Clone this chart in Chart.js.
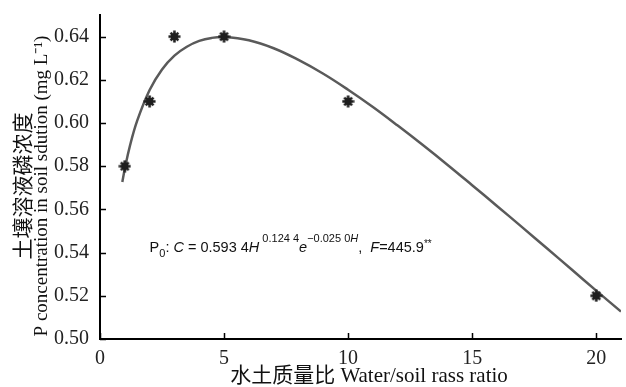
<!DOCTYPE html>
<html>
<head>
<meta charset="utf-8">
<script src="https://cdn.jsdelivr.net/npm/chart.js@4.4.1/dist/chart.umd.min.js"></script>
<style>
  html, body { margin: 0; padding: 0; background: #fff; }
  #wrap { width: 626px; height: 387px; }
</style>
</head>
<body>
<div id="wrap"><canvas id="chart" width="626" height="387"></canvas></div>
<script>
// measured points
const waterRatio = [1, 2, 3, 5, 10, 20];
const pConc = [0.58, 0.61, 0.64, 0.64, 0.61, 0.52];

// fitted curve
const fitX = [0.9, 1, 1.2, 1.5, 2, 2.5, 3, 3.5, 4, 4.5, 5, 6, 7, 8, 9, 10, 11, 12, 13, 14, 15, 16, 17, 18, 19, 20, 21];
const fitY = [0.5727, 0.5788, 0.5891, 0.6011, 0.6153, 0.6248, 0.6312, 0.6353, 0.6380, 0.6394, 0.6398,
  0.6383, 0.6346, 0.6292, 0.6228, 0.6154, 0.6074, 0.5988, 0.5899, 0.5807, 0.5712, 0.5616, 0.5519,
  0.5421, 0.5323, 0.5224, 0.5127];

const xTicks = [0, 5, 10, 15, 20];
const yTicks = [0.50, 0.52, 0.54, 0.56, 0.58, 0.60, 0.62, 0.64];

const xTitle = '水土质量比 Water/soil rass ratio';
const yTitle = ['土壤溶液磷浓度', 'P concentration in soil sdution (mg L⁻¹)'];

const serif = "'Liberation Serif', 'Noto Sans CJK SC', serif";
const sans = "'Liberation Sans', Arial, sans-serif";

// asterisk-like marker
function makeMarker() {
  const c = document.createElement('canvas');
  c.width = 13; c.height = 13;
  const g = c.getContext('2d');
  g.strokeStyle = '#1e1e1e';
  g.fillStyle = '#1e1e1e';
  g.lineWidth = 2.6;
  g.beginPath();
  g.moveTo(6.5, 0.5); g.lineTo(6.5, 12.5);
  g.moveTo(0.5, 6.5); g.lineTo(12.5, 6.5);
  g.moveTo(2.6, 2.6); g.lineTo(10.4, 10.4);
  g.moveTo(10.4, 2.6); g.lineTo(2.6, 10.4);
  g.stroke();
  g.beginPath();
  g.arc(6.5, 6.5, 3.6, 0, Math.PI * 2);
  g.fill();
  return c;
}

// inward ticks, axis titles and the equation
const decor = {
  id: 'decor',
  afterDraw(chart) {
    const ctx = chart.ctx;
    const x = chart.scales.x, y = chart.scales.y;
    const area = chart.chartArea;
    ctx.save();
    ctx.strokeStyle = '#000';
    ctx.lineWidth = 1.5;
    ctx.beginPath();
    xTicks.forEach(v => {
      const px = Math.round(x.getPixelForValue(v)) + 0.5;
      ctx.moveTo(px, area.bottom);
      ctx.lineTo(px, area.bottom - 6);
    });
    yTicks.forEach(v => {
      const py = Math.round(y.getPixelForValue(v)) + 0.5;
      ctx.moveTo(area.left, py);
      ctx.lineTo(area.left + 6, py);
    });
    ctx.stroke();

    // x title
    ctx.fillStyle = '#111';
    ctx.font = '21px ' + serif;
    ctx.textAlign = 'center';
    ctx.textBaseline = 'middle';
    ctx.fillText(xTitle, 369, 376);

    // y title
    ctx.save();
    ctx.translate(24, 186);
    ctx.rotate(-Math.PI / 2);
    ctx.font = '21px ' + serif;
    ctx.fillText(yTitle[0], 0, 0);
    ctx.restore();
    ctx.save();
    ctx.translate(42, 186);
    ctx.rotate(-Math.PI / 2);
    ctx.font = '19px ' + serif;
    ctx.fillText(yTitle[1], 0, 0);
    ctx.restore();

    // equation
    const parts = [
      { t: 'P', s: 14.5, dy: 0 },
      { t: '0', s: 11, dy: 5 },
      { t: ': ', s: 14.5, dy: 0 },
      { t: 'C', s: 14.5, dy: 0, it: true },
      { t: ' = 0.593 4', s: 14.5, dy: 0 },
      { t: 'H', s: 14.5, dy: 0, it: true },
      { t: ' 0.124 4', s: 11, dy: -10 },
      { t: 'e', s: 14.5, dy: 0, it: true },
      { t: '−0.025 0', s: 11, dy: -10 },
      { t: 'H', s: 11, dy: -10, it: true },
      { t: ',  ', s: 14.5, dy: 0 },
      { t: 'F', s: 14.5, dy: 0, it: true },
      { t: '=445.9', s: 14.5, dy: 0 },
      { t: '**', s: 10, dy: -5 }
    ];
    let ex = x.getPixelForValue(2);
    const ey = y.getPixelForValue(0.5405);
    ctx.textAlign = 'left';
    ctx.textBaseline = 'alphabetic';
    ctx.fillStyle = '#111';
    parts.forEach(p => {
      ctx.font = (p.it ? 'italic ' : '') + p.s + 'px ' + sans;
      ctx.fillText(p.t, ex, ey + p.dy);
      ex += ctx.measureText(p.t).width;
    });
    ctx.restore();
  }
};

new Chart(document.getElementById('chart'), {
  type: 'scatter',
  data: {
    datasets: [
      {
        label: 'fit',
        data: fitX.map((v, i) => ({ x: v, y: fitY[i] })),
        showLine: true,
        borderColor: '#5a5a5a',
        borderWidth: 2.5,
        pointRadius: 0,
        tension: 0.4,
        order: 2
      },
      {
        label: 'P0',
        data: waterRatio.map((v, i) => ({ x: v, y: pConc[i] })),
        pointStyle: makeMarker(),
        order: 1
      }
    ]
  },
  plugins: [decor],
  options: {
    responsive: false,
    animation: false,
    layout: { padding: { top: 7, right: 5, left: 0, bottom: 0 } },
    plugins: {
      legend: { display: false },
      tooltip: { enabled: false }
    },
    scales: {
      x: {
        type: 'linear',
        min: 0,
        max: 21,
        afterBuildTicks: s => { s.ticks = xTicks.map(v => ({ value: v })); },
        afterFit: s => { s.height = 48; },
        grid: { display: false },
        border: { display: true, color: '#000', width: 2 },
        ticks: {
          color: '#222',
          padding: 0,
          font: { family: serif, size: 20 },
          callback: v => String(v)
        }
      },
      y: {
        type: 'linear',
        min: 0.5,
        max: 0.65,
        afterBuildTicks: s => { s.ticks = yTicks.map(v => ({ value: v })); },
        afterFit: s => { s.width = 100; },
        grid: { display: false },
        border: { display: true, color: '#000', width: 2 },
        ticks: {
          color: '#222',
          padding: 3,
          font: { family: serif, size: 20 },
          callback: v => v.toFixed(2)
        }
      }
    }
  }
});
</script>
</body>
</html>
